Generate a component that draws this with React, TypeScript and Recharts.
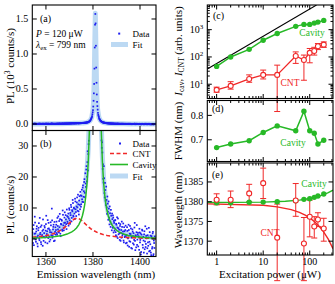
import { ComposedChart, Scatter, XAxis, YAxis, ErrorBar } from 'recharts';

const W = 335;
const H = 284;
const SERIF = '"Liberation Serif", "Times New Roman", serif';
const BLUE = '#1e1ef0';
const FITC = '#bcd9f3';
const RED = '#f02828';
const GREEN = '#27b927';

// spectrum in counts/s, spectrometer grid of 0.125 nm, stored as two interleaved passes
const specStart = 1354.25;
const specStep = 0.25;
const specCounts = [
  2.1, -1.3, 4.5, 0.2, 7.2, 1.8, -0.9, 3.3, 0.6, -2.4, 2.8, 5.1, -0.4, 1.5, 3.9, -1.7, 0.8, 2.6, 6.3, -0.6,
  1.9, 3.7, -1.1, 4.8, 0.9, 2.5, 6.1, 0.3, 3.4, -0.8, 2.2, 5.4, 1.2, 9.8, 0.4, 3.1, 4.6, 1.7, -0.5, 3.8,
  2.9, 5.6, 1.4, 4.2, 7.3, 2.1, 3.8, 6.4, 0.9, 4.7, 5.9, 2.6, 7.8, 3.5, 5.2, 8.6, 4.1, 6.3, 3.2, 7.4,
  5.1, 8.2, 6.6, 9.4, 4.9, 7.7, 10.3, 6.8, 8.9, 11.6, 7.2, 9.8, 6.4, 12.1, 8.7, 10.5, 13.4, 9.1, 11.2, 7.9,
  13.8, 9.6, 14.1, 11.2, 15.9, 12.0, 17.3, 13.6, 18.4, 14.9, 21.2, 16.8, 23.5, 20.1, 28.3, 27.4, 31.7, 37.6, 45.3, 60.1,
  76.2, 95.4, 139.8, 198.1, 331.6, 572.4, 1092.7, 1571.8, 1118.3, 589.2, 316.5, 205.4, 131.2, 99.7, 70.9, 58.3, 43.1, 38.6, 29.4, 27.9,
  24.1, 18.2, 19.6, 13.4, 15.8, 10.9, 12.6, 8.1, 11.4, 6.2, 9.8, 4.7, 8.3, 3.9, 7.5, 2.8, 6.4, 7.6, 2.1, 5.2,
  3.4, 6.1, 1.2, 4.6, 7.0, 0.3, 3.5, 5.1, 1.8, 4.2, -0.6, 2.9, 5.6, 1.1, 2.4, -0.5, 3.8, 0.6, 2.9, -1.4,
  1.3, 3.8, -2.1, 0.5, 2.9, -0.7, 4.2, 1.6, -2.9, 0.8, 3.1, -1.4, 1.9, -0.3, 5.2, -3.6, 0.9, 2.2, -1.9, 1.4,
  -2.4, 0.6, 3.3, -1.1, 1.8, -4.2, 0.3, 2.7, -2.8, -0.5, 1.5, -3.3, 4.1, -1.6, 0.2, -4.7, 1.2, -2.2, 3.6, -0.9,
  -3.8, 1.1, -5.2, 0.4, -2.6, 2.3, -4.9, -1.3, 0.8,
];
const specStart2 = 1354.375;
const specCounts2 = [
  0.4, 3.2, -2.0, 1.7, 5.3, -0.2, 2.4, 4.1, -1.5, 1.1, 3.6, 0.1, 6.8, 2.0, -1.0, 4.4, 1.3, -2.2, 3.0, 0.7,
  4.2, 0.5, 2.7, 7.5, 1.6, -1.4, 3.3, 5.2, 0.8, 2.9, -0.2, 4.4, 2.1, 6.0, 1.0, 3.9, -0.7, 5.5, 2.3, 1.4,
  4.6, 1.9, 6.8, 3.1, 2.4, 5.8, 8.1, 1.7, 4.9, 6.2, 3.0, 9.2, 4.4, 2.8, 6.9, 5.3, 7.7, 4.8, 9.5, 5.6,
  7.1, 4.3, 9.9, 6.0, 8.4, 11.0, 5.7, 9.3, 12.6, 7.5, 10.1, 8.2, 13.0, 9.6, 7.4, 11.8, 10.2, 14.3, 8.9, 12.4,
  11.0, 15.2, 10.4, 13.9, 12.8, 16.6, 11.9, 15.4, 19.3, 13.5, 17.9, 22.4, 18.6, 24.8, 22.1, 30.6, 35.4, 41.2, 52.7, 66.8,
  88.1, 112.6, 168.4, 249.2, 437.9, 791.3, 1418.5, 1437.2, 806.4, 421.7, 255.8, 158.9, 114.3, 80.6, 66.2, 48.7, 43.4, 31.8, 31.2, 22.6,
  19.4, 23.5, 14.8, 18.1, 12.3, 16.9, 10.2, 13.7, 8.8, 12.1, 6.9, 10.5, 5.6, 9.4, 4.8, 8.2, 3.6, 6.9, 5.8, 2.7,
  6.0, 2.2, 4.9, 0.8, 3.7, 6.6, 1.5, 3.0, -0.3, 4.8, 2.0, 0.4, 3.9, 1.6, 5.0, -1.1, 2.5, 0.9, 4.3, 1.0,
  -1.2, 2.6, 0.2, 4.6, -2.5, 1.7, -0.9, 3.4, 0.4, -3.1, 2.4, 0.9, -1.8, 3.7, -0.6, 1.2, -2.7, 4.5, -0.2, 2.0,
  0.9, -3.5, 2.1, -0.3, -5.0, 1.4, 3.0, -1.9, 0.7, -4.4, 2.5, -0.8, -2.6, 1.0, 3.3, -3.0, -1.1, 0.5, -4.0, 2.2,
  -1.7, -4.4, 0.9, -3.1, 1.8, -5.4, -0.5, -2.9,
];

const cntFitWl = [1354.2, 1358, 1361, 1364, 1367, 1369, 1371, 1372, 1373, 1374, 1375, 1376, 1377, 1378, 1379, 1380, 1382, 1384, 1386, 1388, 1390, 1393, 1396, 1399, 1402, 1406.8];
const cntFitY = [0.57, 0.85, 1.24, 1.9, 3.13, 4.4, 5.86, 6.42, 6.69, 6.57, 6.11, 5.43, 4.69, 3.98, 3.35, 2.82, 2.03, 1.5, 1.14, 0.89, 0.71, 0.53, 0.41, 0.33, 0.27, 0.19];

const cavFitWl = [1354.2, 1358, 1361, 1364, 1367, 1369, 1371, 1372, 1373, 1374, 1375, 1375.5, 1376, 1376.5, 1377, 1377.5, 1378, 1378.5, 1379, 1379.5, 1380, 1380.25, 1380.5, 1380.75, 1381, 1381.25, 1381.5, 1381.75, 1382, 1382.5, 1383, 1383.5, 1384, 1384.5, 1385, 1385.5, 1386, 1386.5, 1387, 1388, 1389, 1390, 1391, 1393, 1395, 1398, 1401, 1404, 1406.8];
const cavFitY = [0.32, 0.43, 0.57, 0.79, 1.16, 1.58, 2.29, 2.82, 3.57, 4.65, 6.3, 7.5, 9.1, 11.2, 14.1, 18.4, 25, 35.7, 55, 95, 199, 322, 578, 1103, 1580, 1103, 578, 322, 199, 95, 55, 35.7, 25, 18.4, 14.1, 11.2, 9.1, 7.5, 6.3, 4.65, 3.57, 2.82, 2.29, 1.58, 1.16, 0.79, 0.57, 0.43, 0.35];
const totFitY = [0.89, 1.28, 1.81, 2.69, 4.29, 5.98, 8.15, 9.24, 10.26, 11.22, 12.41, 13.29, 14.53, 16.26, 18.79, 22.72, 28.98, 39.35, 58.35, 98, 202, 325, 581, 1106, 1582, 1105, 580, 324, 201, 97, 56.7, 37.3, 26.5, 19.8, 15.4, 12.4, 10.24, 8.57, 7.31, 5.54, 4.37, 3.53, 2.93, 2.11, 1.6, 1.14, 0.85, 0.66, 0.54];

// excitation power series (uW)
const powers = [1, 2, 5, 10, 20, 50, 75, 100, 125, 150, 200];
const cavIntensity = [45, 100, 190, 410, 720, 1320, 1560, 1560, 1740, 1890, 2180];
const cntIntensity = [6.2, 8.7, 15.6, 22, 22, 108, 77, 141, 166, 245, 282];
const cntIntLow = [5.1, 6.6, 11.8, 15.6, 1, 58, 14, 61, 117, 186, 224];
const cntIntHigh = [7.8, 12.4, 22, 33, 50, 153, 117, 204, 225, 310, 355];
const linearP = [0.63, 140];
const linearI = [36, 8000];

const cavFwhm = [0.668, 0.683, 0.696, 0.73, 0.757, 0.737, 0.817, 0.737, 0.727, 0.683, 0.698];

const cavWl = [1379.75, 1379.75, 1379.85, 1379.9, 1380.0, 1380.25, 1380.6, 1380.75, 1381.1, 1381.45, 1381.95];
const cntWl = [1380.5, 1380.5, 1382.1, 1384.7, 1370.9, 1380.3, 1369.4, 1376.2, 1373.7, 1375.5, 1373.2];
const cntWlLow = [1379.2, 1378.5, 1380.0, 1380.8, 1360, 1376.3, 1360, 1371.1, 1370.8, 1373.7, 1370.0];
const cntWlHigh = [1382.0, 1382.7, 1384.4, 1388.5, 1379.4, 1384.6, 1376.0, 1380.4, 1376.2, 1377.2, 1375.8];
const cavWlFitP = [0.63, 10, 30, 60, 100, 150, 200, 250, 316];
const cavWlFitY = [1379.8, 1379.9, 1380.1, 1380.4, 1380.8, 1381.3, 1381.8, 1382.3, 1382.9];
const cntWlFitP = [0.63, 10, 20, 40, 60, 80, 100, 125, 150, 175, 200, 250, 316];
const cntWlFitY = [1379.45, 1379.1, 1378.7, 1378.0, 1377.3, 1376.6, 1375.9, 1375.0, 1374.1, 1373.2, 1372.3, 1370.5, 1368.1];

// ticks
const wlTicks = [1360, 1380, 1400];
const aTicks = [0, 0.5, 1, 1.5];
const bTicks = [0, 10, 20, 30];
const powTicks = [0.7, 0.8, 0.9, 1, 2, 3, 4, 5, 6, 7, 8, 9, 10, 20, 30, 40, 50, 60, 70, 80, 90, 100, 200, 300];
const powMajor = [1, 10, 100];
const cTicks = [4, 5, 6, 7, 8, 9, 10, 20, 30, 40, 50, 60, 70, 80, 90, 100, 200, 300, 400, 500, 600, 700, 800, 900, 1000, 2000, 3000, 4000, 5000, 6000, 7000];
const cMajor = [10, 100, 1000];
const dTicks = [0.7, 0.8];
const eTicks = [1370, 1375, 1380, 1385];

type Box = { l: number; t: number; r: number; b: number };
const boxA: Box = { l: 32.3, t: 5, r: 156, b: 130.5 };
const boxB: Box = { l: 32.3, t: 130.5, r: 156, b: 256.5 };
const boxC: Box = { l: 207.3, t: 5, r: 333, b: 98.5 };
const boxD: Box = { l: 207.3, t: 100.5, r: 333, b: 161.5 };
const boxE: Box = { l: 207.3, t: 163, r: 333, b: 255 };

const zip = (xs: number[], ys: number[], k = 1) => xs.map((x, i) => ({ x, y: ys[i] * k }));

const specData = [
  ...specCounts.map((y, i) => ({ x: specStart + i * specStep, y })),
  ...specCounts2.map((y, i) => ({ x: specStart2 + i * specStep, y })),
];
const specDataA = specData.map((d) => ({ x: d.x, y: d.y / 1000 }));
const fitA = zip(cavFitWl, totFitY, 0.001);
const fitB = zip(cavFitWl, totFitY);
const cavB = zip(cavFitWl, cavFitY);
const cntB = zip(cntFitWl, cntFitY);

const cavC = zip(powers, cavIntensity);
const cntC = powers.map((x, i) => ({ x, y: cntIntensity[i], err: [cntIntensity[i] - cntIntLow[i], cntIntHigh[i] - cntIntensity[i]] }));
const lineC = zip(linearP, linearI);
const fwhmD = zip(powers, cavFwhm);
const cavE = zip(powers, cavWl);
const cntE = powers.map((x, i) => ({ x, y: cntWl[i], err: [cntWl[i] - cntWlLow[i], cntWlHigh[i] - cntWl[i]] }));
const cavFitE = zip(cavWlFitP, cavWlFitY);
const cntFitE = zip(cntWlFitP, cntWlFitY);

const margin = (b: Box) => ({ left: b.l - 30, top: b.t, right: W - b.r, bottom: H - b.b - 20 });

const xTick = (box: Box, major: number[], label?: (v: number) => string) => (p: any) => {
  const v = p.payload.value;
  const x = p.payload.coordinate ?? p.x;
  const big = major.includes(v);
  const len = big ? 4.5 : 2.5;
  return (
    <g>
      <line x1={x} x2={x} y1={box.b} y2={box.b - len} stroke="#000" strokeWidth={1} />
      <line x1={x} x2={x} y1={box.t} y2={box.t + len} stroke="#000" strokeWidth={1} />
      {label && big && (
        <text x={x} y={265} textAnchor="middle" fontSize={10} fontFamily={SERIF} fill="#000">{label(v)}</text>
      )}
    </g>
  );
};

const yTick = (box: Box, major: number[], label: (v: number) => any) => (p: any) => {
  const v = p.payload.value;
  const y = p.payload.coordinate ?? p.y;
  const big = major.includes(v);
  const len = big ? 4.5 : 2.5;
  return (
    <g>
      <line x1={box.l} x2={box.l + len} y1={y} y2={y} stroke="#000" strokeWidth={1} />
      <line x1={box.r} x2={box.r - len} y1={y} y2={y} stroke="#000" strokeWidth={1} />
      {big && (
        <text x={box.l - 4} y={y + 3.5} textAnchor="end" fontSize={10} fontFamily={SERIF} fill="#000">{label(v)}</text>
      )}
    </g>
  );
};

const expLabel = (v: number) => (
  <>
    <tspan>10</tspan>
    <tspan dy={-4} fontSize={7}>{Math.round(Math.log10(v))}</tspan>
  </>
);

const square = (color: string, s: number) => (p: any) => (
  <rect x={p.cx - s / 2} y={p.cy - s / 2} width={s} height={s} fill={color} />
);
const disc = (color: string, r: number) => (p: any) => <circle cx={p.cx} cy={p.cy} r={r} fill={color} />;
const ring = (color: string, r: number) => (p: any) => (
  <circle cx={p.cx} cy={p.cy} r={r} fill="#fff" stroke={color} strokeWidth={1.1} />
);
const noMark = () => <g />;

const layer: React.CSSProperties = { position: 'absolute', left: 0, top: 0 };

function SpectrumPanel({ box, data, fit, cav, cnt, yDomain, yTicks, yLabel }: any) {
  return (
    <div style={layer}>
      <ComposedChart width={W} height={H} margin={margin(box)}>
        <XAxis type="number" dataKey="x" domain={[1354.2, 1406.8]} allowDataOverflow ticks={wlTicks} interval={0}
          height={20} axisLine={false} tickLine={false} tick={xTick(box, wlTicks, box === boxB ? (v) => String(v) : undefined)} />
        <YAxis type="number" dataKey="y" domain={yDomain} allowDataOverflow ticks={yTicks} interval={0}
          width={30} axisLine={false} tickLine={false} tick={yTick(box, yTicks, yLabel)} />
        <Scatter data={fit} dataKey="y" line={{ stroke: FITC, strokeWidth: 5, strokeLinejoin: 'round' }} shape={noMark} isAnimationActive={false} />
        <Scatter data={data} dataKey="y" shape={square(BLUE, 1.7)} isAnimationActive={false} />
        {cnt && <Scatter data={cnt} dataKey="y" line={{ stroke: RED, strokeWidth: 1.6, strokeDasharray: '4 2.5' }} shape={noMark} isAnimationActive={false} />}
        {cav && <Scatter data={cav} dataKey="y" line={{ stroke: GREEN, strokeWidth: 1.5 }} shape={noMark} isAnimationActive={false} />}
      </ComposedChart>
    </div>
  );
}

function PowerPanel({ box, yDomain, yScale, yTicks, yMajor, yLabel, xLabels, children }: any) {
  return (
    <div style={layer}>
      <ComposedChart width={W} height={H} margin={margin(box)}>
        <XAxis type="number" dataKey="x" scale="log" domain={[0.63, 316]} allowDataOverflow ticks={powTicks} interval={0}
          height={20} axisLine={false} tickLine={false} tick={xTick(box, powMajor, xLabels ? (v) => String(v) : undefined)} />
        <YAxis type="number" dataKey="y" scale={yScale} domain={yDomain} allowDataOverflow ticks={yTicks} interval={0}
          width={30} axisLine={false} tickLine={false} tick={yTick(box, yMajor, yLabel)} />
        {children}
      </ComposedChart>
    </div>
  );
}

const T = (props: any) => <text fontFamily={SERIF} fill="#000" {...props} />;

export default function App() {
  return (
    <div style={{ position: 'absolute', left: 0, top: 0, width: W, height: H, background: '#fff' }}>
      <SpectrumPanel box={boxA} data={specDataA} fit={fitA} yDomain={[-0.093, 1.7]} yTicks={aTicks} yLabel={(v: number) => v.toFixed(1)} />
      <SpectrumPanel box={boxB} data={specData} fit={fitB} cav={cavB} cnt={cntB} yDomain={[-5.65, 35]} yTicks={bTicks} yLabel={(v: number) => String(v)} />

      <PowerPanel box={boxC} yDomain={[3, 8000]} yScale="log" yTicks={cTicks} yMajor={cMajor} yLabel={expLabel}>
        <Scatter data={lineC} dataKey="y" line={{ stroke: '#000', strokeWidth: 1.1 }} shape={noMark} isAnimationActive={false} />
        <Scatter data={cavC} dataKey="y" line={{ stroke: GREEN, strokeWidth: 1.5 }} shape={disc(GREEN, 2.7)} isAnimationActive={false} />
        <Scatter data={cntC} dataKey="y" line={{ stroke: RED, strokeWidth: 1.3 }} shape={ring(RED, 2.5)} isAnimationActive={false}>
          <ErrorBar dataKey="err" direction="y" width={3} stroke={RED} strokeWidth={1} />
        </Scatter>
      </PowerPanel>

      <PowerPanel box={boxD} yDomain={[0.611, 0.861]} yScale="linear" yTicks={dTicks} yMajor={dTicks} yLabel={(v: number) => v.toFixed(1)}>
        <Scatter data={fwhmD} dataKey="y" line={{ stroke: GREEN, strokeWidth: 1.5 }} shape={disc(GREEN, 2.7)} isAnimationActive={false} />
      </PowerPanel>

      <PowerPanel box={boxE} yDomain={[1366.5, 1389.8]} yScale="linear" yTicks={eTicks} yMajor={eTicks} yLabel={(v: number) => String(v)} xLabels>
        <Scatter data={cavFitE} dataKey="y" line={{ stroke: GREEN, strokeWidth: 1.4 }} shape={noMark} isAnimationActive={false} />
        <Scatter data={cntFitE} dataKey="y" line={{ stroke: RED, strokeWidth: 1.4 }} shape={noMark} isAnimationActive={false} />
        <Scatter data={cavE} dataKey="y" shape={disc(GREEN, 2.7)} isAnimationActive={false} />
        <Scatter data={cntE} dataKey="y" shape={ring(RED, 2.5)} isAnimationActive={false}>
          <ErrorBar dataKey="err" direction="y" width={3} stroke={RED} strokeWidth={1} />
        </Scatter>
      </PowerPanel>

      <svg width={W} height={H} style={{ ...layer, pointerEvents: 'none' }}>
        {[boxA, boxB, boxC, boxD, boxE].map((b, i) => (
          <rect key={i} x={b.l} y={b.t} width={b.r - b.l} height={b.b - b.t} fill="none" stroke="#000" strokeWidth={1.1} />
        ))}

        {/* axis titles */}
        <T transform="translate(14,66) rotate(-90)" textAnchor="middle" fontSize={11}>
          PL (10<tspan dy={-4} fontSize={7.5}>3</tspan><tspan dy={4}> counts/s)</tspan>
        </T>
        <T transform="translate(14,205) rotate(-90)" textAnchor="middle" fontSize={11}>PL (counts/s)</T>
        <T x={96} y={278} textAnchor="middle" fontSize={11}>Emission wavelength (nm)</T>
        <T transform="translate(182,51) rotate(-90)" textAnchor="middle" fontSize={11}>
          <tspan fontStyle="italic">I</tspan><tspan fontSize={7.5} dy={2}>cav</tspan><tspan dy={-2}>, </tspan>
          <tspan fontStyle="italic">I</tspan><tspan fontSize={7.5} dy={2}>CNT</tspan><tspan dy={-2}> (arb. units)</tspan>
        </T>
        <T transform="translate(182,131) rotate(-90)" textAnchor="middle" fontSize={11}>FWHM (nm)</T>
        <T transform="translate(182,210) rotate(-90)" textAnchor="middle" fontSize={11}>Wavelength (nm)</T>
        <T x={270} y={278} textAnchor="middle" fontSize={11}>Excitation power (μW)</T>

        {/* panel (a) */}
        <T x={40} y={21.5} fontSize={10}>(a)</T>
        <T x={36} y={36.5} fontSize={9.5}><tspan fontStyle="italic">P</tspan> = 120 μW</T>
        <T x={36} y={47.5} fontSize={9.5}>
          <tspan fontStyle="italic">λ</tspan><tspan fontSize={7} dy={2}>ex</tspan><tspan dy={-2}> = 799 nm</tspan>
        </T>
        <rect x={118.2} y={32.6} width={2} height={2} fill={BLUE} />
        <T x={132.5} y={37} fontSize={9}>Data</T>
        <line x1={111} x2={128} y1={44.5} y2={44.5} stroke={FITC} strokeWidth={5} />
        <T x={132.5} y={47.5} fontSize={9}>Fit</T>

        {/* panel (b) */}
        <T x={40} y={147} fontSize={10}>(b)</T>
        <rect x={119} y={142.5} width={2} height={2} fill={BLUE} />
        <T x={132.5} y={146.5} fontSize={9}>Data</T>
        <line x1={110} x2={128} y1={153.5} y2={153.5} stroke={RED} strokeWidth={1.6} strokeDasharray="4 2.5" />
        <T x={132.5} y={157} fontSize={9}>CNT</T>
        <line x1={110} x2={128} y1={164.5} y2={164.5} stroke={GREEN} strokeWidth={1.6} />
        <T x={132.5} y={168} fontSize={9}>Cavity</T>
        <line x1={110} x2={128} y1={176} y2={176} stroke={FITC} strokeWidth={5} />
        <T x={132.5} y={179.5} fontSize={9}>Fit</T>

        {/* right panels */}
        <T x={213} y={18.5} fontSize={10}>(c)</T>
        <T x={312} y={35.5} textAnchor="middle" fontSize={9.5} fill={GREEN}>Cavity</T>
        <T x={290} y={85.5} textAnchor="middle" fontSize={9.5} fill={RED}>CNT</T>
        <T x={212} y={112} fontSize={10}>(d)</T>
        <T x={293} y={146} textAnchor="middle" fontSize={9.5} fill={GREEN}>Cavity</T>
        <T x={212} y={177.5} fontSize={10}>(e)</T>
        <T x={314} y={187} textAnchor="middle" fontSize={9.5} fill={GREEN}>Cavity</T>
        <T x={270} y={236} textAnchor="middle" fontSize={9.5} fill={RED}>CNT</T>
      </svg>
    </div>
  );
}
